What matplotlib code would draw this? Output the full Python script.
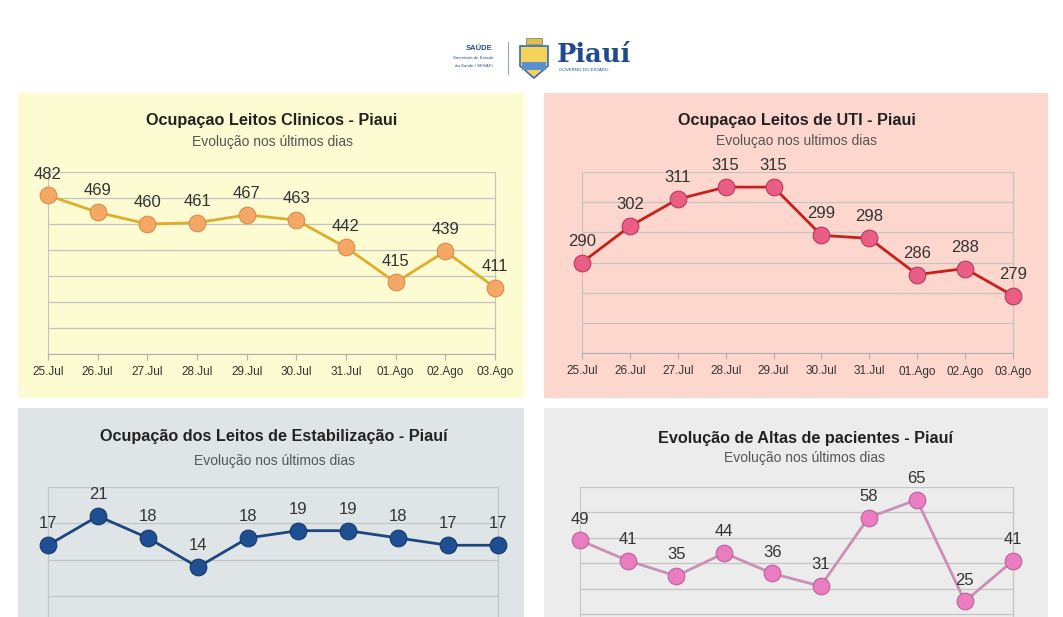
import matplotlib
matplotlib.use("Agg")
import matplotlib.pyplot as plt
from matplotlib.patches import Rectangle, Polygon

plt.rcParams['font.family'] = ['Liberation Sans', 'DejaVu Sans']

W, H = 1063, 617

dates = ["25.Jul", "26.Jul", "27.Jul", "28.Jul", "29.Jul", "30.Jul", "31.Jul",
         "01.Ago", "02.Ago", "03.Ago"]
clinicos = [482, 469, 460, 461, 467, 463, 442, 415, 439, 411]
uti = [290, 302, 311, 315, 315, 299, 298, 286, 288, 279]
estabilizacao = [17, 21, 18, 14, 18, 19, 19, 18, 17, 17]
altas = [49, 41, 35, 44, 36, 31, 58, 65, 25, 41]

titles = ["Ocupaçao Leitos Clinicos - Piaui",
          "Ocupaçao Leitos de UTI - Piaui",
          "Ocupação dos Leitos de Estabilização - Piauí",
          "Evolução de Altas de pacientes - Piauí"]
subtitles = ["Evolução nos últimos dias",
             "Evoluçao nos ultimos dias",
             "Evolução nos últimos dias",
             "Evolução nos últimos dias"]

fig = plt.figure(figsize=(W / 100, H / 100), dpi=100)
fig.patch.set_facecolor('white')


def px_rect(x0, y0, x1, y1):
    return [x0 / W, 1 - y1 / H, (x1 - x0) / W, (y1 - y0) / H]


def panel_bg(x0, y0, x1, y1, color):
    fig.patches.append(Rectangle((x0 / W, 1 - y1 / H), (x1 - x0) / W, (y1 - y0) / H,
                                 transform=fig.transFigure, facecolor=color,
                                 edgecolor='none', zorder=-5))


panels = [
    dict(box=(18, 93, 524, 398), ax=(48, 172, 495, 354), bg='#fcfbd2', data=clinicos,
         ylim=(360, 500), step=20, lc='#dcae2a', mc='#f5a765', me='#d98e4c',
         ty=120, sy=142, cx=272, showx=True),
    dict(box=(544, 93, 1048, 398), ax=(582, 172, 1013, 353), bg='#fdd7cd', data=uti,
         ylim=(260, 320), step=10, lc='#c8201c', mc='#ea5d85', me='#b83a60',
         ty=120, sy=141, cx=797, showx=True),
    dict(box=(18, 408, 524, 640), ax=(48, 487, 498, 669), bg='#dfe5e7', data=estabilizacao,
         ylim=(0, 25), step=5, lc='#1d467f', mc='#1f4f93', me='#163866',
         ty=436, sy=461, cx=274, showx=False),
    dict(box=(544, 408, 1048, 640), ax=(580, 487, 1013, 665), bg='#ececec', data=altas,
         ylim=(0, 70), step=10, lc='#c98fb6', mc='#ea7cc0', me='#c0609c',
         ty=439, sy=458, cx=805, showx=False),
]

for i, p in enumerate(panels):
    panel_bg(*p['box'], p['bg'])
    ax = fig.add_axes(px_rect(*p['ax']))
    ax.set_facecolor(p['bg'])
    x = list(range(len(dates)))
    ax.plot(x, p['data'], color=p['lc'], lw=2.0, zorder=3, clip_on=False)
    ax.plot(x, p['data'], 'o', ms=12, color=p['mc'], mec=p['me'], mew=0.8,
            zorder=4, clip_on=False)
    for xi, v in zip(x, p['data']):
        ax.annotate(str(v), (xi, v), xytext=(0, 10), textcoords='offset points',
                    ha='center', va='bottom', fontsize=12, color='#333333',
                    annotation_clip=False, zorder=5)
    ax.set_xlim(0, len(dates) - 1)
    ax.set_ylim(*p['ylim'])
    ax.set_yticks(range(p['ylim'][0], p['ylim'][1] + 1, p['step']))
    ax.yaxis.grid(True, color='#c4c4c4', lw=0.9)
    ax.set_axisbelow(True)
    ax.tick_params(axis='y', left=False, labelleft=False)
    ax.set_xticks(x)
    if p['showx']:
        ax.set_xticklabels(dates, fontsize=8.5, color='#333333')
        ax.tick_params(axis='x', length=4, color='#b0b0b0', pad=5)
    else:
        ax.set_xticklabels([])
        ax.tick_params(axis='x', length=0)
    for s in ['top', 'right']:
        ax.spines[s].set_visible(False)
    ax.spines['left'].set_color('#c4c4c4')
    ax.spines['bottom'].set_color('#b0b0b0')
    ax.plot([1, 1], [0, 1], transform=ax.transAxes, color='#c4c4c4', lw=0.9,
            clip_on=False, zorder=1)
    fig.text(p['cx'] / W, 1 - p['ty'] / H, titles[i], ha='center', va='center',
             fontsize=11.7, fontweight='bold', color='#222222')
    fig.text(p['cx'] / W, 1 - p['sy'] / H, subtitles[i], ha='center', va='center',
             fontsize=10, color='#555555')

# Header logo
fig.text(493 / W, 1 - 48 / H, "SAÚDE", ha='right', va='center', fontsize=5.5,
         fontweight='bold', color='#2d4f8a')
fig.text(493 / W, 1 - 58 / H, "Secretaria de Estado", ha='right', va='center',
         fontsize=3.2, color='#2d4f8a')
fig.text(493 / W, 1 - 66 / H, "da Saúde / SESAPI", ha='right', va='center',
         fontsize=3.2, color='#2d4f8a')
fig.lines.append(plt.Line2D([508 / W, 508 / W], [1 - 42 / H, 1 - 74 / H],
                            transform=fig.transFigure, color='#9aa7b8', lw=0.8))
shield = Polygon([(520 / W, 1 - 46 / H), (548 / W, 1 - 46 / H), (548 / W, 1 - 66 / H),
                  (534 / W, 1 - 78 / H), (520 / W, 1 - 66 / H)], closed=True,
                 transform=fig.transFigure, facecolor='#f3d35a', edgecolor='#3a6ab0',
                 lw=1.2)
fig.patches.append(shield)
fig.patches.append(Rectangle((522 / W, 1 - 70 / H), 24 / W, 8 / H,
                             transform=fig.transFigure, facecolor='#5b8fd0',
                             edgecolor='none'))
fig.patches.append(Rectangle((526 / W, 1 - 44 / H), 16 / W, 6 / H,
                             transform=fig.transFigure, facecolor='#e0c050',
                             edgecolor='#6a7f4a', lw=0.5))
fig.text(557 / W, 1 - 54 / H, "Piauí", ha='left', va='center', fontsize=18.5,
         fontweight='bold', family='DejaVu Serif', color='#1f4b8e')
fig.text(559 / W, 1 - 70 / H, "GOVERNO DO ESTADO", ha='left', va='center',
         fontsize=3.2, color='#1f4b8e')

fig.savefig("out.png", dpi=100, facecolor='white')
